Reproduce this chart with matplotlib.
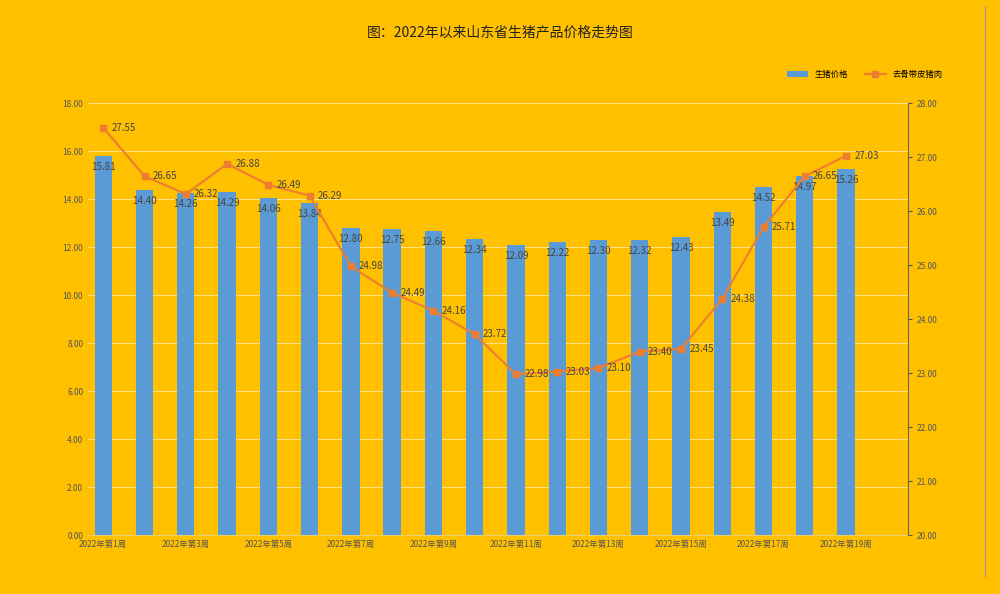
import matplotlib
matplotlib.use("Agg")
import matplotlib.pyplot as plt

plt.rcParams["font.family"] = ["Noto Sans CJK SC", "DejaVu Sans"]

weeks = [f"2022年第{i}周" for i in range(1, 20)]
hog = [15.81, 14.40, 14.26, 14.29, 14.06, 13.84, 12.80, 12.75, 12.66, 12.34,
       12.09, 12.22, 12.30, 12.32, 12.43, 13.49, 14.52, 14.97, 15.26]
pork = [27.55, 26.65, 26.32, 26.88, 26.49, 26.29, 24.98, 24.49, 24.16, 23.72,
        22.98, 23.03, 23.10, 23.40, 23.45, 24.38, 25.71, 26.65, 27.03]
title = "图：2022年以来山东省生猪产品价格走势图"
names = ["生猪价格", "去骨带皮猪肉"]

bg = "#FFC000"
fig = plt.figure(figsize=(10, 5.94), dpi=100, facecolor=bg)
ax = fig.add_axes([0.088, 0.099, 0.82, 0.727], facecolor=bg)
x = list(range(len(weeks)))
ax.bar(x, hog, width=0.42, color="#5B9BD5", label=names[0], zorder=2)
ax.set_ylim(0, 18)
ax.set_yticks(range(0, 19, 2))
ax.set_yticklabels([f"{v:.2f}" for v in range(0, 19, 2)], fontsize=6, color="#555555")
ax.grid(axis="y", color="#FFE080", lw=0.8, zorder=0)
ax.set_xlim(-0.37, len(weeks) + 0.5)
ax.set_xticks(x[::2])
ax.set_xticklabels(weeks[::2], fontsize=6, color="#555555")
ax.tick_params(length=0)
for s in ["top", "right", "left"]:
    ax.spines[s].set_visible(False)
ax.spines["bottom"].set_color("#E8D070")
for xi, v in zip(x, hog):
    ax.text(xi, v - 0.25, f"{v:.2f}", ha="center", va="top", fontsize=7, color="#444444", zorder=5)

ax2 = ax.twinx()
ax2.plot(x, pork, color="#ED7D31", marker="s", ms=5, lw=1.5, label=names[1], zorder=4)
ax2.set_ylim(20, 28)
ax2.set_yticks(range(20, 29))
ax2.set_yticklabels([f"{v:.2f}" for v in range(20, 29)], fontsize=6, color="#555555")
ax2.tick_params(length=3, colors="#555555")
for s in ["top", "left", "bottom"]:
    ax2.spines[s].set_visible(False)
ax2.spines["right"].set_color("#666666")
for xi, v in zip(x, pork):
    ax2.text(xi + 0.2, v, f"{v:.2f}", ha="left", va="center", fontsize=7, color="#444444", zorder=5)

fig.text(0.5, 0.945, title, ha="center", va="center", fontsize=10, color="#222222")
h1, l1 = ax.get_legend_handles_labels()
h2, l2 = ax2.get_legend_handles_labels()
fig.legend(h1 + h2, l1 + l2, loc="center", bbox_to_anchor=(0.865, 0.875), ncol=2,
           frameon=False, fontsize=6, handlelength=2.5)
fig.add_artist(plt.Line2D([0.985, 0.985], [0.03, 0.99], color="#999999", lw=0.8))
fig.savefig("out.png", dpi=100, facecolor=bg)
